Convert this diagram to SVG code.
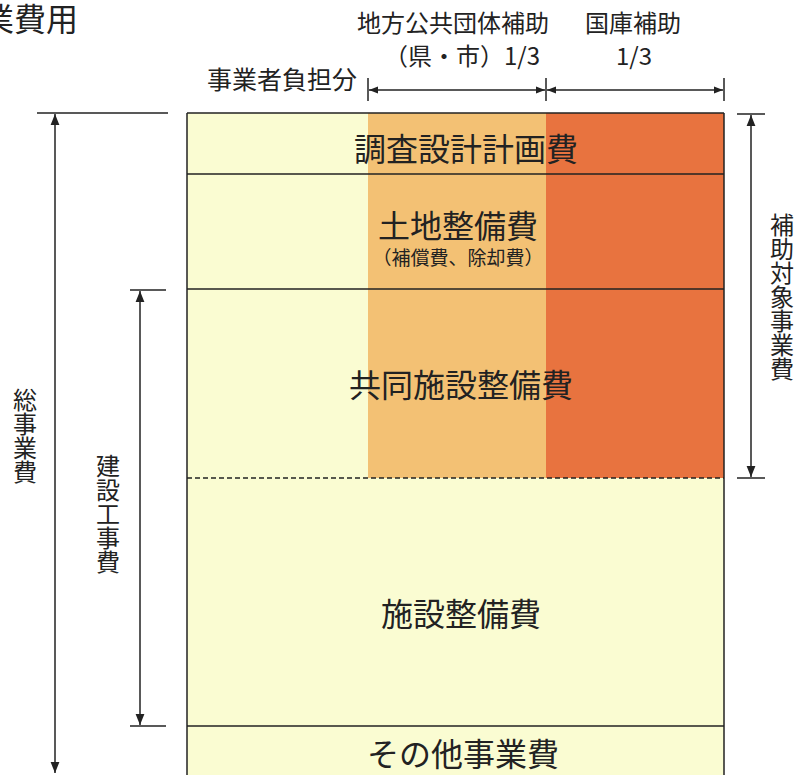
<svg xmlns="http://www.w3.org/2000/svg" width="798" height="775" viewBox="0 0 798 775">
<style>
text{font-family:"Noto Sans CJK JP","Noto Sans CJK SC",sans-serif;fill:#222}
.ln{stroke:#222;stroke-width:1.5;fill:none}
.c{text-anchor:middle}
.b{font-size:32px;text-anchor:middle}
.h{font-size:24px;text-anchor:middle}
.v{writing-mode:vertical-rl;text-anchor:middle;font-size:24px}
</style>
<defs>
<marker id="ah" viewBox="0 0 10 10" refX="10" refY="5" markerWidth="9" markerHeight="9" markerUnits="userSpaceOnUse" orient="auto-start-reverse"><path d="M0,1 L10,5 L0,9 Z" fill="#222"/></marker>
<marker id="av" viewBox="0 0 10 10" refX="10" refY="5" markerWidth="11" markerHeight="11" markerUnits="userSpaceOnUse" orient="auto-start-reverse"><path d="M0,1 L10,5 L0,9 Z" fill="#222"/></marker>
</defs>
<rect width="798" height="775" fill="#fff"/>
<text x="78" y="31" font-size="32" text-anchor="end">業費用</text>
<g id="chart">
<rect x="187" y="113" width="537" height="680" fill="#fafcd2"/>
<rect x="368" y="113" width="178" height="365" fill="#f3c174"/>
<rect x="546" y="113" width="178" height="365" fill="#e8733f"/>
<line class="ln" x1="187" y1="113" x2="724" y2="113"/>
<line class="ln" x1="187" y1="113" x2="187" y2="775"/>
<line class="ln" x1="724" y1="113" x2="724" y2="775"/>
<line class="ln" x1="187" y1="174" x2="724" y2="174"/>
<line class="ln" x1="187" y1="289" x2="724" y2="289"/>
<line class="ln" x1="187" y1="478" x2="724" y2="478" stroke-dasharray="5,3"/>
<line class="ln" x1="187" y1="726" x2="724" y2="726"/>
</g>
<g id="n1"><text class="b" x="466" y="161">調査設計計画費</text></g>
<g id="n2"><text class="b" x="458" y="238">土地整備費</text><text class="c" x="458" y="265" font-size="19">（補償費、除却費）</text></g>
<g id="n3"><text class="b" x="461" y="397">共同施設整備費</text></g>
<g id="n4"><text class="b" x="461" y="626">施設整備費</text></g>
<g id="n5"><text class="b" x="463" y="766">その他事業費</text></g>
<g id="labels">
<text class="h" x="453" y="32">地方公共団体補助</text>
<text class="h" x="462" y="65">（県・市）1/3</text>
<text class="h" x="633" y="32">国庫補助</text>
<text class="h" x="634" y="65">1/3</text>
<text x="357" y="89" font-size="25" text-anchor="end">事業者負担分</text>
<text class="v" x="25" y="436">総事業費</text>
<text class="v" x="108" y="514">建設工事費</text>
<text class="v" x="782" y="297" font-size="23">補助対象事業費</text>
</g>
<g id="connectors">
<line class="ln" x1="368" y1="78" x2="368" y2="101"/>
<line class="ln" x1="546" y1="78" x2="546" y2="101"/>
<line class="ln" x1="724" y1="78" x2="724" y2="101"/>
<line class="ln" x1="369" y1="90" x2="545" y2="90" marker-start="url(#ah)" marker-end="url(#ah)"/>
<line class="ln" x1="547" y1="90" x2="723" y2="90" marker-start="url(#ah)" marker-end="url(#ah)"/>
<line class="ln" x1="37" y1="113" x2="168" y2="113"/>
<line class="ln" x1="55" y1="114" x2="55" y2="773" marker-start="url(#av)" marker-end="url(#av)"/>
<line class="ln" x1="130" y1="290" x2="166" y2="290"/>
<line class="ln" x1="130" y1="726" x2="166" y2="726"/>
<line class="ln" x1="140" y1="291" x2="140" y2="725" marker-start="url(#av)" marker-end="url(#av)"/>
<line class="ln" x1="737" y1="114" x2="765" y2="114"/>
<line class="ln" x1="737" y1="478" x2="765" y2="478"/>
<line class="ln" x1="751" y1="115" x2="751" y2="477" marker-start="url(#av)" marker-end="url(#av)"/>
</g>
</svg>
